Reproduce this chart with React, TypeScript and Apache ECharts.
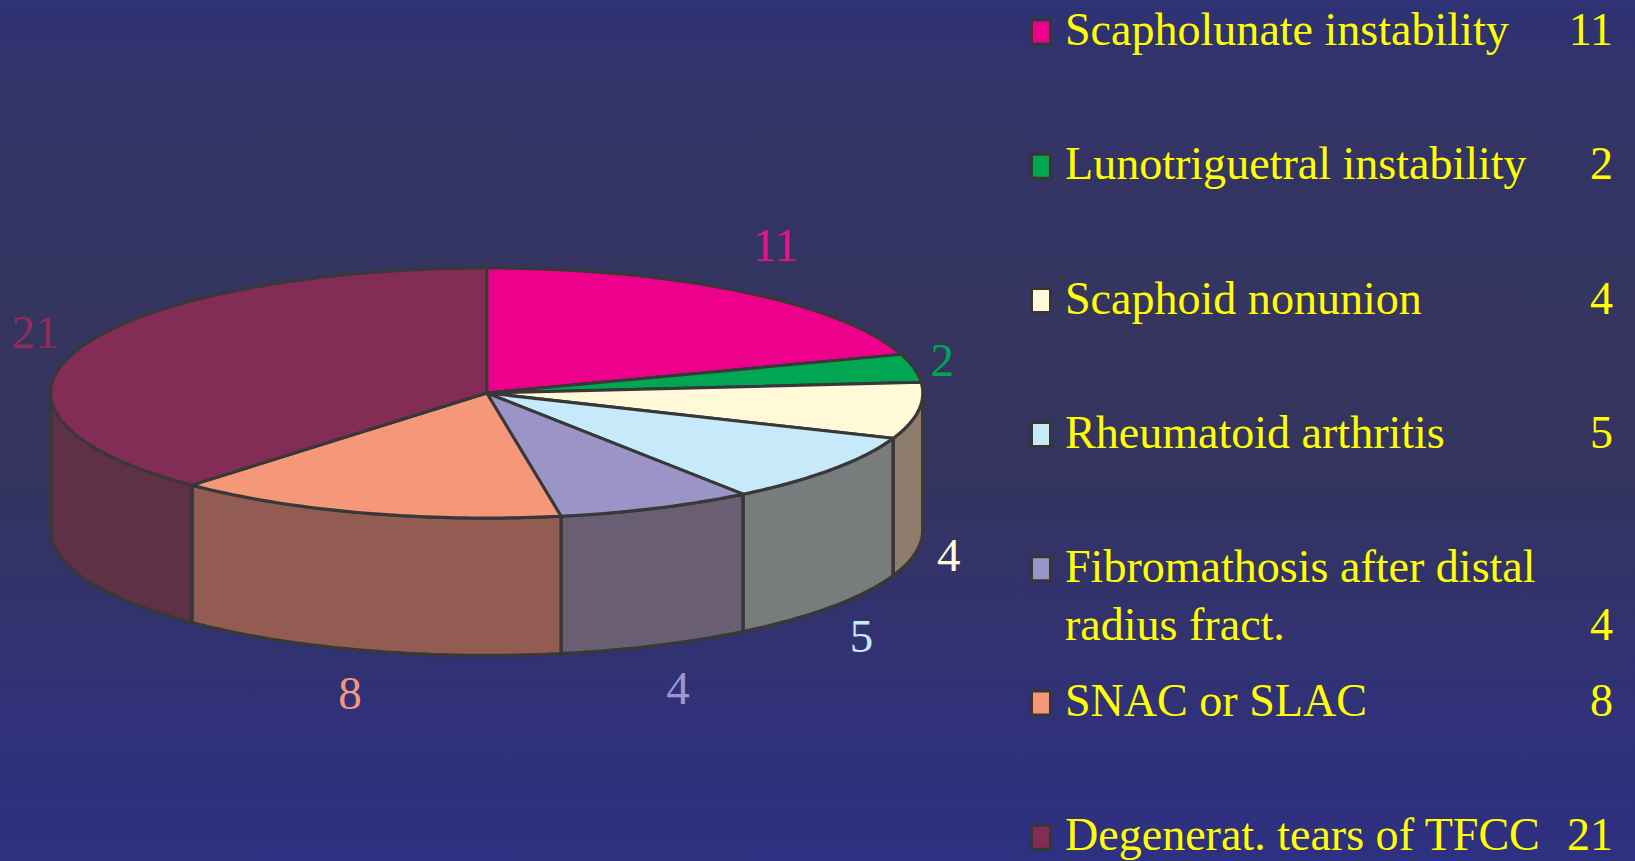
import React, { useEffect, useRef } from "react";
import * as echarts from "echarts";

// ---- data ----
const categories = [
  "Scapholunate instability",
  "Lunotriguetral instability",
  "Scaphoid nonunion",
  "Rheumatoid arthritis",
  "Fibromathosis after distal\nradius fract.",
  "SNAC or SLAC",
  "Degenerat. tears of TFCC",
];
const values = [11, 2, 4, 5, 4, 8, 21];

// ---- styles ----
const topColors = ["#EC008C", "#00A651", "#FFF9D8", "#C6EAF9", "#9B94C7", "#F59779", "#832C55"];
const wallColors = ["#8A1060", "#0A6A40", "#8E7D6C", "#797C7C", "#6A5E72", "#935C52", "#5E3145"];
const labelColors = ["#E8128C", "#00A651", "#FFF9DC", "#C5E9F8", "#9D97CB", "#F4977A", "#8E2D5C"];
const labelNudge = [
  [12, -14],
  [-6, 19],
  [-4, -20],
  [2, -2],
  [8, 8],
  [-4, 8],
  [-13, 13],
];
const FONT = "Liberation Serif";
const FS = 47;
const SX_LEGEND = 0.98;
const SX_LABEL = 1;
const DEPTH = 1.1; // in y-axis units
const OUTLINE = "#383838";
const YELLOW = "#FFFF00";

const total = values.reduce((a, b) => a + b, 0);
const cum: number[] = [0];
values.forEach((v) => cum.push(cum[cum.length - 1] + v));

function buildLegend() {
  const els: any[] = [];
  const x0 = 1065;
  const y0 = 29.5;
  const step = 134.2;
  const lineH = 58;
  categories.forEach((cat, i) => {
    const cy = y0 + step * i;
    const lines = cat.split("\n");
    els.push({
      type: "rect",
      shape: { x: 1031.5, y: cy + 2.5 - 12, width: 19, height: 24 },
      style: { fill: topColors[i], stroke: "#363636", lineWidth: 3 },
    });
    lines.forEach((ln, j) => {
      els.push({
        type: "text",
        x: x0,
        y: cy + j * lineH,
        scaleX: SX_LEGEND,
        style: {
          text: ln,
          fill: YELLOW,
          fontFamily: FONT,
          fontSize: FS,
          align: "left",
          textAlign: "left",
          verticalAlign: "middle",
          textVerticalAlign: "middle",
        },
      });
    });
    els.push({
      type: "text",
      x: 1613,
      y: cy + (lines.length - 1) * lineH,
      scaleX: SX_LEGEND,
      style: {
        text: String(values[i]),
        fill: YELLOW,
        fontFamily: FONT,
        fontSize: FS,
        align: "right",
        textAlign: "right",
        verticalAlign: "middle",
        textVerticalAlign: "middle",
      },
    });
  });
  return els;
}

export default function App() {
  const ref = useRef<HTMLDivElement>(null);
  useEffect(() => {
    if (!ref.current) return;
    const chart = echarts.init(ref.current, undefined, { renderer: "svg" });
    const option: any = {
      animation: false,
      grid: { left: 50.7, top: 268, width: 872, height: 250 },
      xAxis: { type: "value", min: -1, max: 1, show: false },
      yAxis: { type: "value", min: -1, max: 1, show: false },
      series: [
        {
          type: "custom",
          coordinateSystem: "cartesian2d",
          clip: false,
          data: values.map((v, i) => [i, v]),
          renderItem: (params: any, api: any) => {
            const i = params.dataIndex;
            const a0 = (cum[i] / total) * 360;
            const a1 = (cum[i + 1] / total) * 360;
            const pt = (deg: number, r = 1) => {
              const rad = (deg * Math.PI) / 180;
              return api.coord([r * Math.sin(rad), r * Math.cos(rad)]);
            };
            const arc = (s: number, e: number) => {
              const pts: number[][] = [];
              const n = Math.max(2, Math.ceil((e - s) / 1));
              for (let k = 0; k <= n; k++) pts.push(pt(s + ((e - s) * k) / n));
              return pts;
            };
            const depth = api.size([0, DEPTH])[1];
            const children: any[] = [];
            const w0 = Math.max(a0, 90);
            const w1 = Math.min(a1, 270);
            if (w1 > w0) {
              const top = arc(w0, w1);
              const bottom = top.map((p) => [p[0], p[1] + depth]).reverse();
              children.push({
                type: "polygon",
                shape: { points: top.concat(bottom) },
                style: { fill: wallColors[i], stroke: OUTLINE, lineWidth: 3.4, lineJoin: "round" },
              });
            }
            const c = api.coord([0, 0]);
            children.push({
              type: "polygon",
              shape: { points: [c].concat(arc(a0, a1)) },
              style: { fill: topColors[i], stroke: OUTLINE, lineWidth: 3, lineJoin: "round" },
            });
            // value label
            const mid = (a0 + a1) / 2;
            const p = pt(mid, 1.08);
            const lower = Math.cos((mid * Math.PI) / 180) < 0;
            const lx = p[0] + labelNudge[i][0];
            const ly = p[1] + (lower ? depth + 25 : -25) + labelNudge[i][1];
            children.push({
              type: "text",
              x: lx,
              y: ly,
              scaleX: SX_LABEL,
              style: {
                text: String(values[i]),
                fill: labelColors[i],
                fontFamily: FONT,
                fontSize: FS,
                align: "center",
                textAlign: "center",
                verticalAlign: "middle",
                textVerticalAlign: "middle",
              },
            });
            return { type: "group", children };
          },
        },
      ],
      graphic: buildLegend(),
    };
    chart.setOption(option);
    return () => chart.dispose();
  }, []);
  return (
    <div
      ref={ref}
      style={{
        position: "fixed",
        left: 0,
        top: 0,
        width: 1635,
        height: 861,
        background:
          "linear-gradient(to bottom, #2F3274 0%, #333466 12%, #35355F 40%, #34345F 55%, #30317A 85%, #2E3081 100%)",
      }}
    />
  );
}
